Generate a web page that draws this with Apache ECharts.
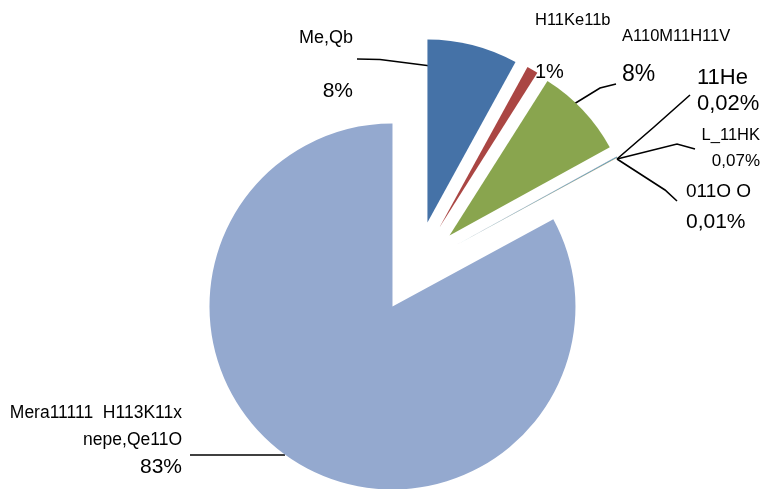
<!DOCTYPE html>
<html>
<head>
<meta charset="utf-8">
<script src="https://cdn.jsdelivr.net/npm/echarts@6/dist/echarts.min.js"></script>
<style>
  html, body { margin: 0; padding: 0; background: #fff; }
  #chart { width: 761px; height: 489px; }
</style>
</head>
<body>
<div id="chart"></div>
<script>
// slice names and values (percent)
var names = ['Me,Qb', 'H11Ke11b', 'A110M11H11V', '11He', 'L_11HK', '011O O', 'Mera11111  H113K11x\nnepe,Qe11O'];
var values = [8, 1, 8, 0.02, 0.07, 0.01, 83];
var colors = ['#4572A7', '#AA4643', '#89A54E', '#80699B', '#3D96AE', '#DB843D', '#94A9CF'];

var FONT = "'Liberation Sans', Arial, sans-serif";

// label placement for each slice (x, top y, align, line height, blank line, name size, pct size)
var labelPlace = [
    { x: 353, y: 25, align: 'right', lh: 26.5, gap: true, ns: 18, ps: 21, line: [[357, 59], [380, 59.5], [431, 66]] },
    { x: 535, y: 7, align: 'left', lh: 26, gap: true, ns: 16.5, ps: 20, line: null },
    { x: 622, y: 17, align: 'left', lh: 38.5, gap: false, ns: 16.5, ps: 23, line: [[574, 104], [600, 88], [616, 84]] },
    { x: 697, y: 64.5, align: 'left', lh: 26, gap: false, ns: 22, ps: 22, line: [[617, 159], [654, 127], [690, 95]] },
    { x: 760, y: 122, align: 'right', lh: 26, gap: false, ns: 16.5, ps: 17, line: [[617, 159], [677, 144], [695, 149]] },
    { x: 686, y: 176, align: 'left', lh: 31, gap: false, ns: 19, ps: 21, line: [[617, 159], [665, 190], [677, 201]] },
    { x: 182, y: 400, align: 'right', lh: 27, gap: false, ns: 17.5, ps: 21, line: [[190, 455], [237, 455], [285, 455]] }
];

function fmtPct(v) {
    return String(v).replace('.', ',') + '%';
}

// exploded slices
var sliceData = names.map(function (n, i) {
    return { name: n, value: values[i], selected: true, itemStyle: { color: colors[i] } };
});

// same slices, invisible, carrying the labels (labels of selected slices ignore labelLayout x/y)
var labelData = names.map(function (n, i) {
    var p = labelPlace[i];
    var txt = n.split('\n').map(function (s) { return '{n|' + s + '}'; }).join('\n');
    txt += (p.gap ? '\n\n' : '\n') + '{p|' + fmtPct(values[i]) + '}';
    return {
        name: n,
        value: values[i],
        label: {
            formatter: txt,
            lineHeight: p.lh,
            align: p.align,
            rich: {
                n: { fontFamily: FONT, fontSize: p.ns, lineHeight: p.lh, color: '#000', align: p.align },
                p: { fontFamily: FONT, fontSize: p.ps, lineHeight: p.lh, color: '#000', align: p.align }
            }
        },
        labelLine: { show: !!p.line }
    };
});

var chart = echarts.init(document.getElementById('chart'));
chart.setOption({
    animation: false,
    backgroundColor: '#fff',
    series: [{
        type: 'pie',
        center: [416, 267],
        radius: 183,
        startAngle: 90,
        clockwise: true,
        selectedMode: 'multiple',
        selectedOffset: 46,
        silent: true,
        emphasis: { disabled: true },
        itemStyle: { borderWidth: 0 },
        label: { show: false },
        labelLine: { show: false },
        data: sliceData
    }, {
        type: 'pie',
        center: [416, 267],
        radius: 183,
        startAngle: 90,
        clockwise: true,
        selectedMode: false,
        silent: true,
        avoidLabelOverlap: false,
        emphasis: { disabled: true },
        itemStyle: { color: 'rgba(0,0,0,0)', borderWidth: 0 },
        label: { show: true, position: 'outside', color: '#000' },
        labelLine: { show: true, lineStyle: { color: '#000', width: 1.6 } },
        labelLayout: function (params) {
            var p = labelPlace[params.dataIndex];
            var out = { x: p.x, y: p.y, align: p.align, verticalAlign: 'top' };
            if (p.line) out.labelLinePoints = p.line;
            return out;
        },
        data: labelData
    }]
});
</script>
</body>
</html>
